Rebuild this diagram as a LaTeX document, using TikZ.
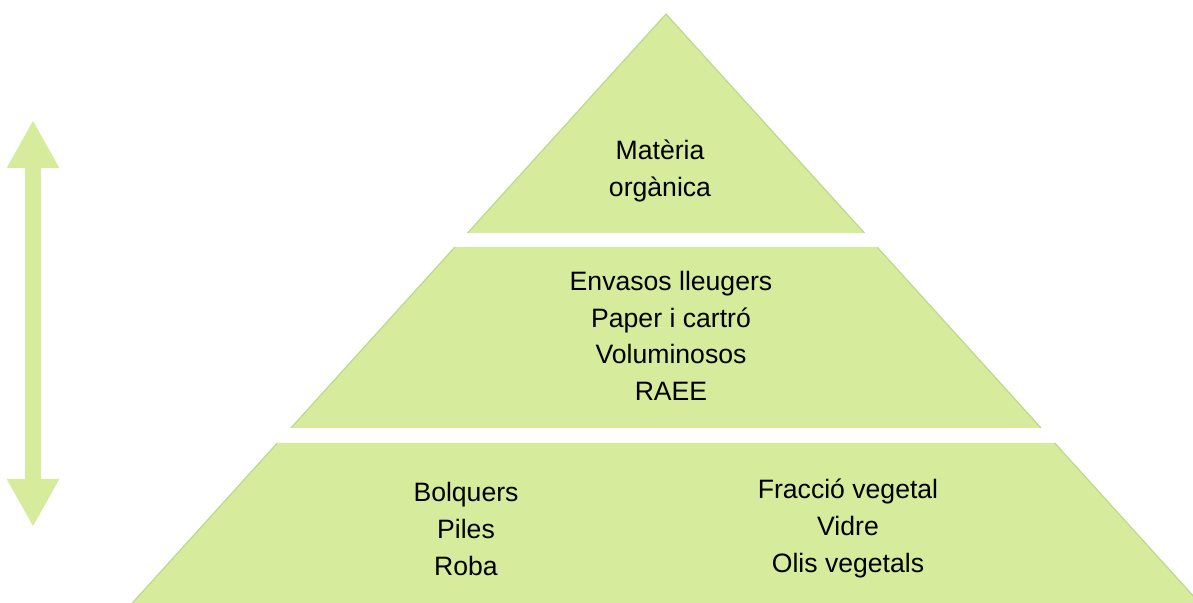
\documentclass[tikz,border=0pt]{standalone}
\usepackage{fontspec}
\setmainfont{Liberation Sans}
\usetikzlibrary{arrows.meta,
positioning}
\definecolor{leafgreen}{RGB}{214,235,155}
\definecolor{leafedge}{RGB}{192,215,140}

\begin{document}
\begin{tikzpicture}[
  x=0.5pt, y=-0.5pt,
  every node/.style={font=\fontsize{13.3}{18.3}\selectfont, align=center, inner sep=0pt}
]
\useasboundingbox (0,0) rectangle (1193,603);

% pyramid tiers, one triangle cut by two white gaps
\foreach \ya/\yb in {14/233, 247/428, 443/603} {
  \pgfmathsetmacro{\wa}{(\ya-14)*0.906}
  \pgfmathsetmacro{\wb}{(\yb-14)*0.906}
  \fill [leafgreen] (666-\wa,\ya) -- (666+\wa,\ya) -- (666+\wb,\yb) -- (666-\wb,\yb) -- cycle;
  \draw [leafedge, line width=0.6pt] (666-\wa,\ya) -- (666-\wb,\yb) (666+\wa,\ya) -- (666+\wb,\yb);
}

\node (organic) at (660,171) {Matèria\\orgànica};
\node (mixed) at (671,336) {Envasos lleugers\\Paper i cartró\\Voluminosos\\RAEE};
\node (leftbox) at (466,529) {Bolquers\\Piles\\Roba};
\node (rightbox) at (848,528.5) {Fracció vegetal\\Vidre\\Olis vegetals};

% double arrow on the left
\coordinate (up) at (33,120);
\coordinate (down) at (33,527);
\draw [
  leafgreen,
  line width=8pt,
  {Triangle[length=24pt, width=24.5pt]}-{Triangle[length=24pt, width=24.5pt]}
] (up) -- (down);

\end{tikzpicture}
\end{document}
